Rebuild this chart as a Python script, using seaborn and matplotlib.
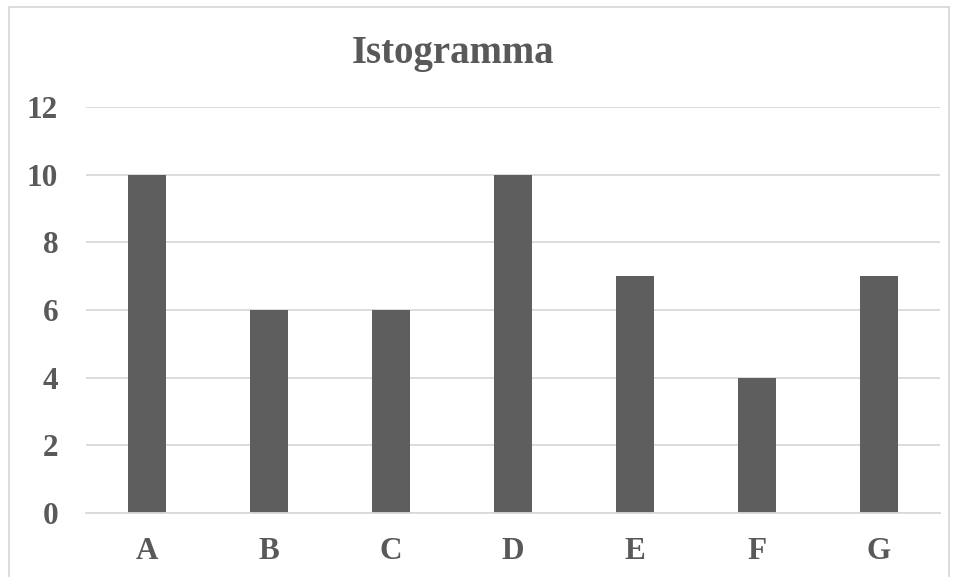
import matplotlib
matplotlib.use("Agg")
import matplotlib.pyplot as plt
import seaborn as sns
import pandas as pd
from matplotlib.patches import Rectangle

categories = ["A", "B", "C", "D", "E", "F", "G"]
values = [10, 6, 6, 10, 7, 4, 7]
yticks = [0, 2, 4, 6, 8, 10, 12]

sns.set_theme(style="white")
plt.rcParams['font.family'] = ['Liberation Serif', 'DejaVu Serif']

df = pd.DataFrame({"cat": categories, "val": values})

fig = plt.figure(figsize=(9.59, 5.77), dpi=100)
ax = fig.add_axes([86/959, 1 - 513/577, (940-86)/959, (513-107)/577])

sns.barplot(data=df, x="cat", y="val", color="#5e5e5e", width=0.31, ax=ax,
            saturation=1)
for p in ax.patches:
    p.set_edgecolor("none")

ax.set_ylim(0, 12)
ax.set_xlim(-0.5, 6.5)
ax.set_yticks(yticks)
ax.yaxis.grid(True, color="#d9d9d9", linewidth=1.3)
ax.set_axisbelow(True)
for s in ["top", "right", "left"]:
    ax.spines[s].set_visible(False)
ax.spines["bottom"].set_color("#d9d9d9")
ax.spines["bottom"].set_linewidth(1.3)
ax.set_xlabel("")
ax.set_ylabel("")
ax.tick_params(axis="both", length=0, labelsize=22.5, labelcolor="#595959")
ax.tick_params(axis="x", pad=17)
ax.tick_params(axis="y", pad=20)
for lab in ax.get_xticklabels() + ax.get_yticklabels():
    lab.set_fontweight("bold")

fig.text(453/959, 1 - 53/577, "Istogramma", ha="center", va="center",
         fontsize=28, fontweight="bold", color="#595959")

fig.patches.append(Rectangle((9/959, -0.01), (949-9)/959, 1 - 7/577 + 0.01,
                             transform=fig.transFigure, fill=False,
                             edgecolor="#d9d9d9", linewidth=1.3))

fig.savefig("out.png", dpi=100)
